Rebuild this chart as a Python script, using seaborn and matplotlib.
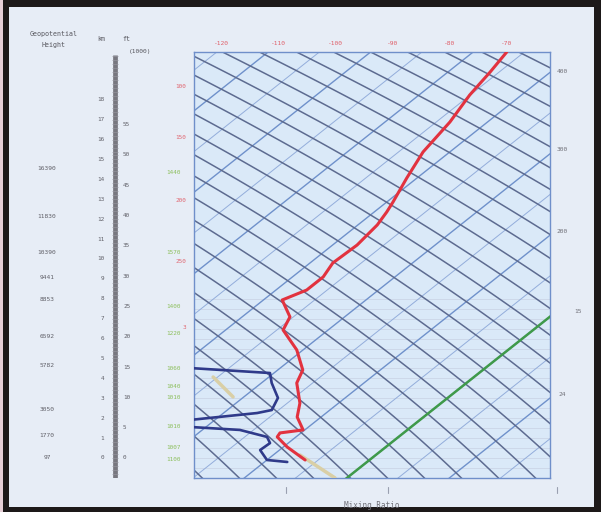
import numpy as np
import pandas as pd
import seaborn as sns
import matplotlib.pyplot as plt
from matplotlib import transforms
from matplotlib.patches import Rectangle

sns.set_theme(style='white')
plt.rcParams['font.family'] = ['DejaVu Sans Mono', 'DejaVu Sans']

# sounding: height (km) and temperature (C)
temp_z = [20.40, 19.40, 18.24, 16.88, 15.38, 14.07, 12.86, 12.36, 11.71, 10.70,
          9.80, 9.10, 8.44, 7.94, 7.09, 6.43, 5.43, 4.42, 3.77, 2.76,
          2.06, 1.41, 1.26, 1.06, 0.55, -0.10]
temp_c = [-66.1, -64.6, -63.1, -60.6, -58.7, -55.8, -52.9, -51.8, -50.6, -49.7,
          -50.0, -48.6, -48.6, -50.7, -45.6, -43.9, -37.1, -31.6, -29.8, -24.8,
          -22.2, -18.3, -21.7, -21.3, -17.3, -11.3]
dew_z = [4.52, 4.27, 3.77, 3.02, 2.41, 2.26, 1.91, 1.56, 1.41, 1.06, 0.75, 0.40, -0.10, -0.20]
dew_c = [-51.8, -36.7, -34.2, -29.8, -28.2, -30.1, -40.4, -38.8, -29.4, -23.1, -21.2, -21.4, -18.0, -14.0]
freeze_z = [-1.1, 8.0]
freeze_c = [0.0, 0.0]
parcel_z = [4.07, 3.07]
parcel_c = [-45.8, -37.9]
surf_z = [0.15, -1.0]
surf_c = [-13.3, -2.1]

# scale labels
km_labels = list(range(0, 19))
kft_labels = list(range(0, 56, 5))
geo_labels = ['16390', '11830', '10390', '9441', '8853', '6592', '5782', '3050', '1770', '97']
geo_z = [14.57, 12.11, 10.35, 9.05, 7.94, 6.08, 4.67, 2.46, 1.11, 0.0]
red_labels = ['100', '150', '200', '250', '3']
red_z = [18.69, 16.08, 12.96, 9.85, 6.58]
green_labels = ['1440', '1570', '1400', '1220', '1060', '1040', '1010', '1010', '1007', '1100']
green_z = [14.37, 10.35, 7.59, 6.28, 4.52, 3.57, 3.02, 1.56, 0.55, -0.10]
top_temps = [-120, -110, -100, -90, -80, -70]
top_labels = ['-120', '-110', '-100', '-90', '-80', '-70']
right_labels = ['400', '300', '200', '15', '24']
right_z = [19.40, 15.48, 11.36, 7.34, 3.17]

SKEW = 4.4
ZMIN, ZMAX = -1.005, 20.40

fig = plt.figure(figsize=(6.01, 5.12), dpi=100)
fig.patch.set_facecolor('#1d1919')
fig.add_artist(Rectangle((0, 0), 3 / 601, 1, transform=fig.transFigure,
                         facecolor='#e6cfd6', edgecolor='none', zorder=0))
fig.add_artist(Rectangle((9 / 601, 5 / 512), 585 / 601, 500 / 512, transform=fig.transFigure,
                         facecolor='#e7edf6', edgecolor='none', zorder=0))

ax = fig.add_axes([194 / 601, 34 / 512, 356 / 601, 426 / 512])
ax.set_facecolor('#dae9f8')
ax.set_xlim(-31.25, 31.25)
ax.set_ylim(ZMIN, ZMAX)

zz = np.linspace(-1.2, 20.6, 120)
# faint isobars in the lower part
for h in np.arange(-1.0, 8.5, 0.5):
    ax.axhline(h, color='#c8d2e3', lw=0.5, zorder=1)
# skewed isotherms, main and intermediate
for t in np.arange(-180, 80, 18):
    ax.plot(t + SKEW * zz, zz, color='#6f91cb', lw=1.0, zorder=2)
for t in np.arange(-171, 80, 18):
    ax.plot(t + SKEW * zz, zz, color='#93addb', lw=0.7, zorder=2)
# adiabat-like lines
for c in np.arange(-40, 170, 6.5):
    ax.plot(c - 3.76 * zz - 0.0794 * zz ** 2, zz, color='#5d6b90', lw=1.1, zorder=2)

def skewed(z, t):
    df = pd.DataFrame({'z': z, 't': t})
    df['x'] = df['t'] + SKEW * df['z']
    return df

sns.lineplot(data=skewed(parcel_z, parcel_c), x='x', y='z', sort=False, estimator=None,
             color='#d9cfa6', lw=2.5, ax=ax, zorder=3)
sns.lineplot(data=skewed(surf_z, surf_c), x='x', y='z', sort=False, estimator=None,
             color='#d9cfa6', lw=2.5, ax=ax, zorder=3)
sns.lineplot(data=skewed(freeze_z, freeze_c), x='x', y='z', sort=False, estimator=None,
             color='#3f9a4a', lw=1.8, ax=ax, zorder=4)
sns.lineplot(data=skewed(dew_z, dew_c), x='x', y='z', sort=False, estimator=None,
             color='#2f3a8a', lw=1.9, ax=ax, zorder=5)
sns.lineplot(data=skewed(temp_z, temp_c), x='x', y='z', sort=False, estimator=None,
             color='#e2323f', lw=2.2, ax=ax, zorder=6)

ax.set_xlabel('')
ax.set_ylabel('')
ax.set_xticks([])
ax.set_yticks([])
for s in ax.spines.values():
    s.set_color('#6f8fca')
    s.set_linewidth(1.0)

# labels around the plot
for t, lab in zip(top_temps, top_labels):
    ax.text(t + SKEW * ZMAX + 3.8, ZMAX + 0.3, lab, color='#e0606a', fontsize=4.5,
            ha='center', va='bottom', clip_on=False)
rt = transforms.blended_transform_factory(ax.transAxes, ax.transData)
for lab, z in zip(right_labels, right_z):
    xpos = 1.08 if lab == '15' else 1.035
    ax.text(xpos, z, lab, transform=rt, color='#707078', fontsize=4.5, ha='center', va='center')
bt = transforms.blended_transform_factory(ax.transData, ax.transAxes)
for x in [-15.1, 2.8, 32.5]:
    ax.plot([x, x], [-0.035, -0.02], transform=bt, color='#9aa0b0', lw=0.8, clip_on=False)
ax.text(0.5, -0.065, 'Mixing Ratio', transform=ax.transAxes, color='#707078', fontsize=5.5,
        ha='center', va='center')

# left-hand height scales
axl = fig.add_axes([9 / 601, 34 / 512, 180 / 601, 426 / 512])
axl.set_xlim(0, 180)
axl.set_ylim(ZMIN, ZMAX)
axl.axis('off')
axl.plot([106, 106], [-1.0, 20.25], color='#77777f', lw=3.4, solid_capstyle='butt')
for h in np.arange(-1.0, 20.25, 0.2):
    axl.plot([103, 109], [h, h], color='#9a9aa4', lw=0.4)
for k in km_labels:
    axl.text(95, k, str(k), color='#606068', fontsize=4.3, ha='right', va='center')
for k in kft_labels:
    axl.text(114, k * 0.3048, str(k), color='#606068', fontsize=4.3, ha='left', va='center')
for lab, z in zip(geo_labels, geo_z):
    axl.text(38, z, lab, color='#606068', fontsize=4.5, ha='center', va='center')
for lab, z in zip(red_labels, red_z):
    axl.text(177, z, lab, color='#e06670', fontsize=4.3, ha='right', va='center')
for lab, z in zip(green_labels, green_z):
    axl.text(172, z, lab, color='#8cbf5c', fontsize=4.3, ha='right', va='center')
axl.text(45, 21.30, 'Geopotential', color='#55555c', fontsize=4.8, ha='center', va='center', clip_on=False)
axl.text(45, 20.75, 'Height', color='#55555c', fontsize=4.8, ha='center', va='center', clip_on=False)
axl.text(92, 21.05, 'km', color='#55555c', fontsize=4.8, ha='center', va='center', clip_on=False)
axl.text(117, 21.05, 'ft', color='#55555c', fontsize=4.8, ha='center', va='center', clip_on=False)
axl.text(131, 20.45, '(1000)', color='#55555c', fontsize=4.5, ha='center', va='center', clip_on=False)

fig.savefig('out.png', dpi=100, facecolor=fig.get_facecolor())
